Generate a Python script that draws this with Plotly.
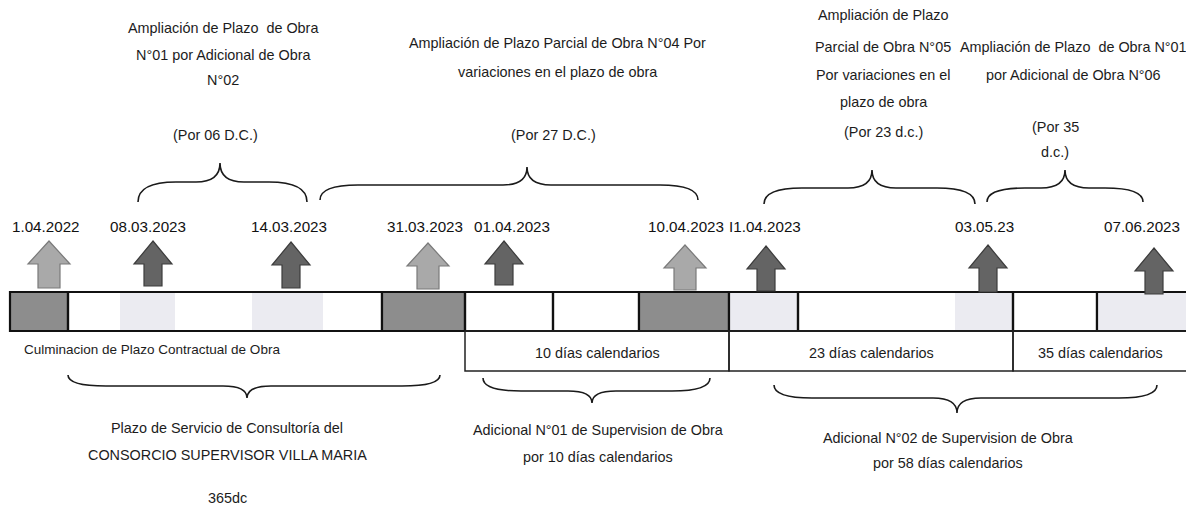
import plotly.graph_objects as go

W, H = 1194, 511
PAD = 8  # page body margin of the browser

# ---------------- data (text / values) ----------------
event_dates = ["1.04.2022", "08.03.2023", "14.03.2023", "31.03.2023", "01.04.2023",
               "10.04.2023", "I1.04.2023", "03.05.23", "07.06.2023"]
event_kind = ["base", "ext", "ext", "base", "ext", "base", "ext", "ext", "ext"]

period_labels = ["10 días calendarios", "23 días calendarios", "35 días calendarios"]
start_label = "Culminacion de Plazo Contractual de Obra"

top_titles = [
    ["Ampliación de Plazo  de Obra", "N°01 por Adicional de Obra", "N°02"],
    ["Ampliación de Plazo Parcial de Obra N°04 Por", "variaciones en el plazo de obra"],
    ["Ampliación de Plazo", "Parcial de Obra N°05", "Por variaciones en el", "plazo de obra"],
    ["Ampliación de Plazo  de Obra N°01", "por Adicional de Obra N°06"],
]
top_days = [["(Por 06 D.C.)"], ["(Por 27 D.C.)"], ["(Por 23 d.c.)"], ["(Por 35", "d.c.)"]]

bottom_titles = [
    ["Plazo de Servicio de Consultoría del", "CONSORCIO SUPERVISOR VILLA MARIA", "", "365dc"],
    ["Adicional N°01 de Supervision de Obra", "por 10 días calendarios"],
    ["Adicional N°02 de Supervision de Obra", "por 58 días calendarios"],
]

# ---------------- schematic layout (pixels) ----------------
event_x = [49, 153, 291, 428, 504, 685, 766, 988, 1154]
label_x = [46, 148, 289, 425, 512, 686, 765, 984, 1142]
arrow_top = [241, 241, 242, 243, 241, 245, 246, 245, 248]
arrow_bot = [288, 286, 288, 289, 285, 290, 291, 292, 294]

bar_y0, bar_y1 = 292, 331
bar_cells = [(10, 68, "g"), (68, 382, "w"), (382, 465, "g"), (465, 553, "w"), (553, 639, "w"),
             (639, 729, "g"), (729, 798, "l"), (798, 1013, "w"), (1013, 1097, "w"), (1097, 1188, "l")]
bar_patches = [(120, 175), (252, 323), (955, 1013)]
row_y0, row_y1 = 331, 371
row_cells = [(465, 729), (729, 1013), (1013, 1188)]

top_braces = [(138, 307, 220, 202, 182, 163), (320, 698, 527, 200, 185, 167),
              (764, 975, 872, 204, 188, 170), (987, 1143, 1065, 202, 188, 170)]
bot_braces = [(68, 440, 247, 375, 386, 398), (483, 710, 592, 378, 391, 403),
              (774, 1157, 957, 385, 398, 413)]

top_text_pos = [(223, [28, 55, 80]), (557, [43, 72]), (883, [15, 47, 75, 102]), (1073, [47, 75])]
top_days_pos = [(215, [135]), (553, [135]), (883, [132]), (1055, [127, 152])]
bot_text_pos = [(227, [428, 455, 478, 498]), (598, [430, 457]), (948, [438, 463])]

FONT = "Liberation Sans, Arial, sans-serif"
FS = 14.4
TXT = "#1c1c1c"
GRAY = "#8d8d8d"
LIGHT = "#ebebf1"

fig = go.Figure()
fig.add_trace(go.Scatter(x=[PAD, W], y=[PAD, H], mode="markers", marker=dict(opacity=0),
                         hoverinfo="skip", showlegend=False))

shapes = []
annots = []

# main bar
shapes.append(dict(type="rect", x0=bar_cells[0][0], x1=bar_cells[-1][1], y0=bar_y0, y1=bar_y1,
                   fillcolor="white", line=dict(width=0), layer="below"))
for a, b in bar_patches:
    shapes.append(dict(type="rect", x0=a, x1=b, y0=bar_y0, y1=bar_y1, fillcolor=LIGHT,
                       line=dict(width=0), layer="below"))
for a, b, k in bar_cells:
    fc = {"g": GRAY, "l": LIGHT, "w": "rgba(0,0,0,0)"}[k]
    shapes.append(dict(type="rect", x0=a, x1=b, y0=bar_y0, y1=bar_y1, fillcolor=fc,
                       line=dict(color="#111", width=2.2)))
# lower row
for a, b in row_cells:
    shapes.append(dict(type="rect", x0=a, x1=b, y0=row_y0, y1=row_y1, fillcolor="rgba(0,0,0,0)",
                       line=dict(color="#222", width=1.5)))


def brace(x0, x1, xm, y0, yh, yt, re=38, rt=24):
    re = min(re, (xm - x0) / 2, (x1 - xm) / 2)
    rt = min(rt, (xm - x0) / 2, (x1 - xm) / 2)
    return (f"M{x0},{y0} Q{x0},{yh} {x0 + re},{yh} L{xm - rt},{yh} Q{xm},{yh} {xm},{yt} "
            f"Q{xm},{yh} {xm + rt},{yh} L{x1 - re},{yh} Q{x1},{yh} {x1},{y0}")


for br in top_braces + bot_braces:
    shapes.append(dict(type="path", path=brace(*br), line=dict(color="#1a1a1a", width=1.6)))

# arrows
for cx, yt, yb, kind in zip(event_x, arrow_top, arrow_bot, event_kind):
    if kind == "base":
        hw, sw, fc, lc = 21, 11, "#a9a9a9", "#7a7a7a"
    else:
        hw, sw, fc, lc = 19, 9, "#646464", "#3c3c3c"
    hh = 23
    p = (f"M{cx},{yt} L{cx + hw},{yt + hh} L{cx + sw},{yt + hh} L{cx + sw},{yb} "
         f"L{cx - sw},{yb} L{cx - sw},{yt + hh} L{cx - hw},{yt + hh} Z")
    shapes.append(dict(type="path", path=p, fillcolor=fc, line=dict(color=lc, width=1.2)))

# date labels
for lx, d in zip(label_x, event_dates):
    annots.append(dict(x=lx, y=226, text=d, showarrow=False, xanchor="center", yanchor="middle",
                       font=dict(family=FONT, size=15.2, color="#111")))

# period labels
for (a, b), t in zip(row_cells, period_labels):
    annots.append(dict(x=(a + b) / 2, y=353, text=t, showarrow=False, yanchor="middle",
                       font=dict(family=FONT, size=FS, color=TXT)))
annots.append(dict(x=22, y=349, text=start_label, showarrow=False, xanchor="left", yanchor="middle",
                   font=dict(family=FONT, size=13.5, color=TXT)))


def add_lines(lines, pos):
    cx, ys = pos
    for t, y in zip(lines, ys):
        if t:
            annots.append(dict(x=cx, y=y, text=t, showarrow=False, xanchor="center",
                               yanchor="middle", font=dict(family=FONT, size=FS, color=TXT)))


for lines, pos in zip(top_titles, top_text_pos):
    add_lines(lines, pos)
for lines, pos in zip(top_days, top_days_pos):
    add_lines(lines, pos)
for lines, pos in zip(bottom_titles, bot_text_pos):
    add_lines(lines, pos)

fig.update_layout(
    width=W - PAD, height=H - PAD, margin=dict(l=0, r=0, t=0, b=0),
    paper_bgcolor="white", plot_bgcolor="white",
    xaxis=dict(range=[PAD, W], visible=False, fixedrange=True),
    yaxis=dict(range=[H, PAD], visible=False, fixedrange=True),
    shapes=shapes, annotations=annots, showlegend=False,
)
fig.write_html("out.html")
